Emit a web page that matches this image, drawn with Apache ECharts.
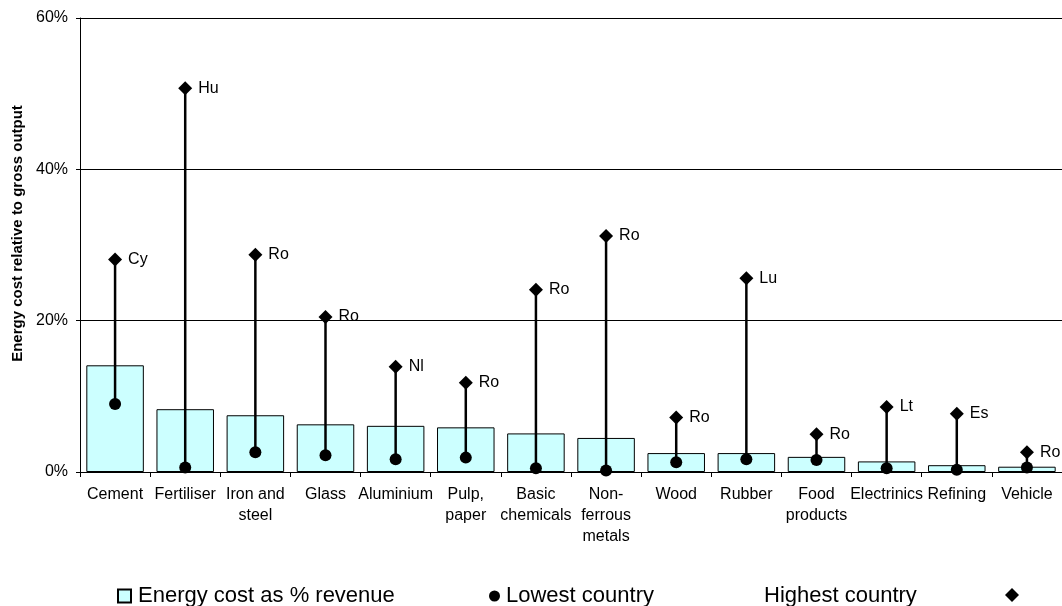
<!DOCTYPE html>
<html>
<head>
<meta charset="utf-8">
<script src="https://cdn.jsdelivr.net/npm/echarts@6/dist/echarts.min.js"></script>
<style>
  html, body { margin: 0; padding: 0; background: #fff; }
  #chart { width: 1062px; height: 606px; }
</style>
</head>
<body>
<div id="chart"></div>
<script>
// Industry sectors (multi-line labels use explicit breaks)
const categories = ['Cement', 'Fertiliser', 'Iron and\nsteel', 'Glass', 'Aluminium', 'Pulp,\npaper',
  'Basic\nchemicals', 'Non-\nferrous\nmetals', 'Wood', 'Rubber', 'Food\nproducts',
  'Electrinics', 'Refining', 'Vehicle'];

// Energy cost as % of revenue (EU average per sector)
const energyCost = [14.1, 8.3, 7.5, 6.3, 6.1, 5.9, 5.1, 4.5, 2.5, 2.5, 2.0, 1.4, 0.9, 0.7];

// Lowest and highest country values per sector, in %
const lowest = [9.0, 0.6, 2.6, 2.2, 1.7, 1.9, 0.5, 0.2, 1.3, 1.7, 1.6, 0.5, 0.3, 0.6];
const highest = [28.1, 50.7, 28.7, 20.5, 13.9, 11.8, 24.1, 31.2, 7.2, 25.6, 5.0, 8.6, 7.7, 2.6];

// Country code of the highest value
const highestCountry = ['Cy', 'Hu', 'Ro', 'Ro', 'Nl', 'Ro', 'Ro', 'Ro', 'Ro', 'Lu', 'Ro', 'Lt', 'Es', 'Ro'];

// Value axis ticks
const yTicks = { min: 0, max: 60, interval: 20 };

const FONT = "'Liberation Sans', Arial, sans-serif";

const rangeData = categories.map((c, i) => [i, lowest[i], highest[i]]);
const highData = categories.map((c, i) => ({ value: [i, highest[i]], country: highestCountry[i] }));
const lowData = categories.map((c, i) => [i, lowest[i]]);

const chart = echarts.init(document.getElementById('chart'), null, { renderer: 'canvas' });

chart.setOption({
  animation: false,
  backgroundColor: '#ffffff',
  textStyle: { fontFamily: FONT, color: '#000' },
  grid: { left: 80, right: -2, top: 18, bottom: 134, containLabel: false },
  legend: [
    {
      data: ['Energy cost as % revenue'],
      left: 112, top: 580,
      icon: 'rect', itemWidth: 13, itemHeight: 13,
      textStyle: { fontSize: 22, fontFamily: FONT, color: '#000', padding: [0, 0, 0, 2] }
    },
    {
      data: ['Lowest country'],
      left: 484, top: 580,
      icon: 'circle', itemWidth: 11, itemHeight: 11,
      itemStyle: { opacity: 1 },
      textStyle: { fontSize: 22, fontFamily: FONT, color: '#000', padding: [0, 0, 0, 1] }
    },
    {
      data: ['Highest country'],
      left: 754, top: 580,
      icon: 'rect', itemWidth: 0, itemHeight: 13,
      itemStyle: { color: 'rgba(0,0,0,0)', borderWidth: 0 },
      textStyle: { fontSize: 22, fontFamily: FONT, color: '#000' }
    }
  ],
  graphic: [
    {
      // legend marker for the highest-country series, placed after its text
      type: 'polygon',
      shape: { points: [[1012, 588], [1019, 595], [1012, 602], [1005, 595]] },
      style: { fill: '#000' },
      silent: true
    }
  ],
  xAxis: {
    type: 'category',
    data: categories,
    boundaryGap: true,
    axisLine: { lineStyle: { color: '#000', width: 1 } },
    axisTick: { show: true, alignWithLabel: false, length: 5, lineStyle: { color: '#000' } },
    axisLabel: {
      interval: 0, margin: 12, color: '#000', fontSize: 16, fontFamily: FONT,
      lineHeight: 21, align: 'center'
    },
    splitLine: { show: false }
  },
  yAxis: {
    type: 'value',
    min: yTicks.min, max: yTicks.max, interval: yTicks.interval,
    name: 'Energy cost relative to gross output',
    nameLocation: 'middle',
    nameGap: 50,
    nameTextStyle: { fontWeight: 'bold', fontSize: 15, fontFamily: FONT, color: '#000', padding: [0, 0, 0, 23] },
    axisLine: { show: true, lineStyle: { color: '#000', width: 1 } },
    axisTick: { show: true, length: 4, lineStyle: { color: '#000' } },
    axisLabel: { formatter: '{value}%', margin: 12, color: '#000', fontSize: 16, fontFamily: FONT },
    splitLine: { show: true, lineStyle: { color: '#000', width: 1 } }
  },
  series: [
    {
      name: 'Energy cost as % revenue',
      type: 'bar',
      data: energyCost,
      barCategoryGap: '18%',
      itemStyle: { color: '#ccffff', borderColor: '#000', borderWidth: 1 },
      z: 2
    },
    {
      name: 'range',
      type: 'custom',
      data: rangeData,
      encode: { x: 0, y: [1, 2] },
      renderItem: function (params, api) {
        const p1 = api.coord([api.value(0), api.value(1)]);
        const p2 = api.coord([api.value(0), api.value(2)]);
        return {
          type: 'line',
          shape: { x1: p1[0], y1: p1[1], x2: p2[0], y2: p2[1] },
          style: { stroke: '#000', lineWidth: 2.5 }
        };
      },
      z: 3
    },
    {
      name: 'Lowest country',
      type: 'scatter',
      data: lowData,
      symbol: 'circle',
      symbolSize: 12,
      itemStyle: { color: '#000', opacity: 1 },
      z: 4
    },
    {
      name: 'Highest country',
      type: 'scatter',
      data: highData,
      symbol: 'diamond',
      symbolSize: [14, 14],
      itemStyle: { color: '#000', opacity: 1 },
      label: {
        show: true,
        position: 'right',
        distance: 6,
        formatter: p => p.data.country,
        color: '#000',
        fontSize: 16,
        fontFamily: FONT
      },
      z: 5
    }
  ]
});
</script>
</body>
</html>
